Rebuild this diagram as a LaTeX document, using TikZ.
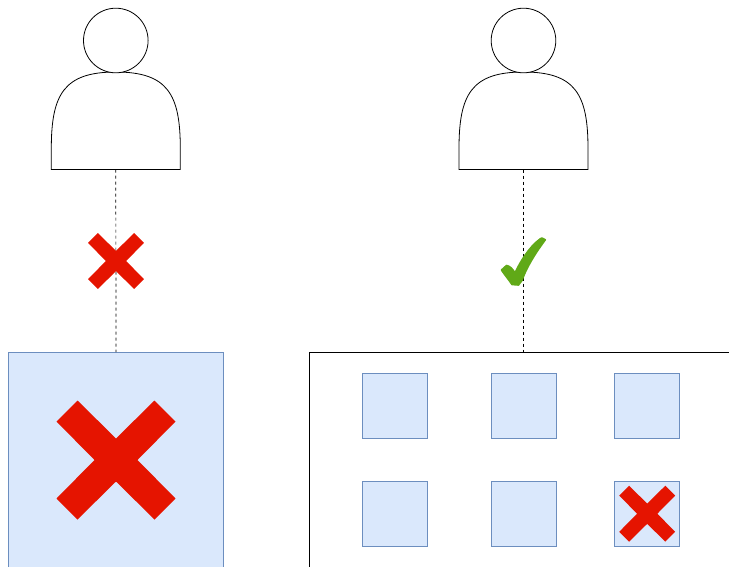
\documentclass[tikz,border=0pt]{standalone}
\usepackage{xcolor}
\usepackage{tikz}
\usetikzlibrary{
  positioning,
  calc
}
\definecolor{boxfill}{HTML}{DAE8FC}
\definecolor{boxline}{HTML}{6C8EBF}
\definecolor{crossred}{HTML}{E51400}
\definecolor{checkgreen}{HTML}{60A917}
\tikzset{
  bluebox/.style={draw=boxline,fill=boxfill,line width=0.8pt,outer sep=0pt,inner sep=0pt},
  smallbox/.style={bluebox,minimum width=65pt,minimum height=65pt},
  framebox/.style={draw=black,line width=0.9pt,outer sep=0pt,inner sep=0pt},
  link/.style={dashed,line width=0.7pt,dash pattern=on 3pt off 3pt},
  person/.pic={
    \draw[line width=0.8pt,fill=white] (-64.5,129) -- (-64.5,108) .. controls (-64.5,54) and (-52,31.5) .. (0,31.5)
      .. controls (52,31.5) and (64.5,54) .. (64.5,108) -- (64.5,129) -- cycle;
    \draw[line width=0.8pt,fill=white] (0,0) circle (32.3);
    \coordinate (-foot) at (0,129);
  },
  crossmark/.pic={
    \fill[crossred] (-59.5,-38.5) -- (-38.5,-59.5) -- (0,-21.5) -- (38.5,-59.5) -- (59.5,-38.5) -- (21.5,0)
      -- (59.5,38.5) -- (38.5,59.5) -- (0,21.5) -- (-38.5,59.5) -- (-59.5,38.5) -- (-21.5,0) -- cycle;
  }
}
\begin{document}
\begin{tikzpicture}[x=1pt,y=-1pt]
\clip (0,0) rectangle (729,566);

% left side
\pic (userA) at (115.8,40.5) {person};
\node[bluebox,minimum width=214.5pt,minimum height=230pt] (bigbox) at (116,467) {};
\draw[link] (userA-foot) -- (bigbox.north);
\pic[scale=0.47] at (116,261) {crossmark};
\pic at (116,460) {crossmark};

% right side
\pic (userB) at (523.5,40.5) {person};
\node[framebox,minimum width=428.6pt,minimum height=230pt] (frame) at (523.5,467.5) {};
\draw[link] (userB-foot) -- (userB-foot |- frame.north);
\fill[checkgreen,draw=checkgreen,line width=1.6pt,line join=round] (501.5,270) -- (506.5,265.5) .. controls (509,265.5) and (513,269) .. (515,273)
  .. controls (520,262) and (529,247) .. (540,239) -- (542,238) -- (545.3,239.8) .. controls (537,251) and (527,266) .. (522,280.5)
  -- (518.5,285) -- (512,284.5) .. controls (509,280) and (504,274) .. (501.5,270) -- cycle;

\node[smallbox] (vmA) at (395,406.3) {};
\node[smallbox] (vmB) at (523.7,406.3) {};
\node[smallbox] (vmC) at (647.2,406.3) {};
\node[smallbox] (vmD) at (395,513.7) {};
\node[smallbox] (vmE) at (523.7,513.7) {};
\node[smallbox] (vmF) at (647.2,513.7) {};
\pic[scale=0.47] at (vmF) {crossmark};
\end{tikzpicture}
\end{document}
